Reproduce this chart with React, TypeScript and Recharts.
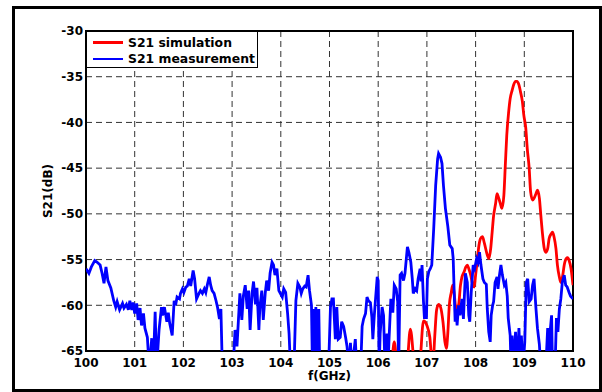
import React from "react";
import { CartesianGrid, Line, LineChart, ReferenceArea, XAxis, YAxis } from "recharts";

const xTicks = [100, 101, 102, 103, 104, 105, 106, 107, 108, 109, 110];
const yTicks = [-65, -60, -55, -50, -45, -40, -35, -30];

// values below -65 dB sit under the axis and get clipped
const measFreq = [
  100.0, 100.06, 100.11, 100.18, 100.23, 100.29, 100.33, 100.37, 100.41, 100.45, 100.51, 100.57, 100.61, 100.64,
  100.69, 100.75, 100.78, 100.83, 100.87, 100.9, 100.94, 100.97, 101.0, 101.04, 101.07, 101.11, 101.14, 101.18,
  101.21, 101.26, 101.3, 101.35, 101.38, 101.42, 101.45, 101.5, 101.55, 101.57, 101.61, 101.66, 101.69, 101.72,
  101.77, 101.81, 101.84, 101.87, 101.92, 101.94, 101.98, 102.01, 102.05, 102.08, 102.12, 102.15, 102.2, 102.23,
  102.27, 102.32, 102.35, 102.39, 102.43, 102.46, 102.49, 102.53, 102.56, 102.59, 102.63, 102.67, 102.7, 102.74,
  102.77, 102.8, 103.02, 103.06, 103.1, 103.16, 103.2, 103.23, 103.27, 103.31, 103.34, 103.37, 103.41, 103.44,
  103.48, 103.51, 103.55, 103.57, 103.61, 103.64, 103.68, 103.71, 103.75, 103.78, 103.82, 103.85, 103.88, 103.92,
  103.96, 103.99, 104.03, 104.06, 104.1, 104.14, 104.17, 104.2, 104.27, 104.31, 104.35, 104.39, 104.42, 104.45,
  104.49, 104.52, 104.56, 104.59, 104.63, 104.65, 104.67, 104.69, 104.72, 104.75, 104.78, 104.8, 104.98, 105.02,
  105.05, 105.08, 105.12, 105.15, 105.18, 105.22, 105.25, 105.29, 105.33, 105.36, 105.4, 105.43, 105.46, 105.53,
  105.56, 105.64, 105.67, 105.7, 105.74, 105.77, 105.8, 105.84, 105.87, 105.89, 105.92, 105.98, 106.0, 106.02,
  106.04, 106.08, 106.11, 106.14, 106.18, 106.2, 106.22, 106.26, 106.3, 106.33, 106.37, 106.4, 106.42, 106.45,
  106.48, 106.52, 106.55, 106.6, 106.63, 106.67, 106.7, 106.72, 106.76, 106.79, 106.82, 106.86, 106.88, 106.9,
  106.93, 106.95, 106.97, 106.99, 107.01, 107.04, 107.07, 107.1, 107.14, 107.18, 107.22, 107.24, 107.28, 107.31,
  107.34, 107.38, 107.43, 107.47, 107.52, 107.54, 107.56, 107.58, 107.6, 107.62, 107.65, 107.68, 107.72, 107.75,
  107.79, 107.83, 107.86, 107.88, 107.91, 107.95, 107.98, 108.02, 108.05, 108.08, 108.11, 108.15, 108.18, 108.22,
  108.24, 108.27, 108.3, 108.32, 108.35, 108.37, 108.4, 108.44, 108.46, 108.49, 108.52, 108.55, 108.59, 108.62,
  108.65, 108.67, 108.71, 108.73, 108.75, 108.78, 108.82, 108.85, 108.89, 108.92, 108.94, 108.97, 109.01, 109.04,
  109.07, 109.1, 109.14, 109.17, 109.2, 109.24, 109.27, 109.31, 109.34, 109.44, 109.48, 109.5, 109.53, 109.56,
  109.58, 109.63, 109.66, 109.69, 109.72, 109.75, 109.78, 109.82, 109.85, 109.88, 109.92, 109.95, 110.0,
];
const measDb = [
  -56.0, -56.5, -55.8, -55.1, -55.3, -55.6, -56.5, -57.6, -55.8, -57.3, -58.1, -59.5, -60.2, -59.6,
  -60.5, -59.8, -60.3, -59.9, -60.5, -59.5, -60.5, -59.7, -60.9, -59.8, -61.6, -60.3, -62.2, -60.9,
  -62.5, -63.5, -67, -63.6, -67, -60.7, -67, -62.7, -60.2, -61.1, -60.2, -61.8, -60.8, -62.0,
  -63.3, -59.5, -60.0, -59.1, -59.3, -58.7, -58.2, -58.6, -58.0, -57.9, -57.1, -57.9, -56.2, -57.1,
  -59.3, -58.7, -58.4, -58.7, -58.2, -58.6, -57.8, -56.9, -57.8, -58.4, -58.7, -59.5, -60.2, -61.5,
  -60.4, -67, -67, -62.7, -64.5, -58.7, -61.6, -59.0, -57.8, -60.4, -58.4, -62.7, -58.7, -57.4,
  -59.9, -58.1, -62.7, -60.2, -58.4, -61.6, -58.7, -57.3, -58.4, -56.5, -55.3, -55.6, -56.7, -56.0,
  -58.4, -58.7, -59.1, -58.2, -58.6, -60.9, -63.1, -67, -67, -59.5, -57.6, -58.0, -58.7, -58.2,
  -57.9, -58.0, -56.7, -58.4, -60.0, -67, -60.4, -67, -60.2, -67, -60.4, -67, -67, -60.2,
  -59.3, -59.3, -63.7, -60.2, -63.7, -63.5, -61.8, -62.3, -63.5, -64.5, -67, -64.1, -67, -63.7,
  -67, -67, -62.3, -61.5, -60.9, -59.1, -59.5, -59.7, -61.3, -63.7, -61.1, -56.9, -57.3, -67,
  -63.1, -60.2, -61.1, -67, -63.1, -67, -64.0, -59.3, -60.8, -57.8, -58.2, -59.6, -67, -56.7,
  -56.5, -57.3, -56.5, -53.6, -54.2, -55.3, -57.1, -58.7, -58.2, -58.4, -57.1, -56.0, -57.4, -55.6,
  -59.6, -61.5, -60.0, -61.5, -57.1, -56.3, -56.0, -55.6, -51.6, -46.9, -44.0, -43.4, -43.8, -44.5,
  -46.9, -49.4, -51.4, -53.4, -53.8, -54.9, -58.5, -61.8, -60.4, -62.2, -60.0, -61.1, -59.3, -61.5,
  -56.5, -57.5, -61.1, -61.8, -58.6, -55.6, -56.0, -54.9, -55.3, -54.2, -55.6, -57.1, -57.5, -57.7,
  -60.4, -62.9, -64.0, -61.1, -60.0, -59.6, -57.5, -56.9, -58.2, -56.7, -55.6, -56.7, -57.8, -57.5,
  -59.0, -61.4, -63.3, -67, -63.3, -67, -62.9, -67, -62.5, -67, -63.3, -67, -64.0, -57.5,
  -57.1, -59.6, -59.3, -57.8, -57.1, -60.4, -62.5, -64.3, -67, -67, -62.5, -67, -62.9, -61.1,
  -67, -67, -61.4, -62.9, -60.4, -59.3, -57.5, -56.7, -57.8, -58.0, -58.6, -59.0, -59.3,
];

const simFreq = [
  106.2, 106.26, 106.33, 106.4, 106.58, 106.66, 106.76, 106.84, 106.93, 107.0, 107.06, 107.12, 107.16, 107.2,
  107.24, 107.28, 107.33, 107.37, 107.4, 107.43, 107.46, 107.5, 107.53, 107.56, 107.6, 107.65, 107.69, 107.72,
  107.76, 107.8, 107.83, 107.86, 107.9, 107.93, 107.97, 108.0, 108.03, 108.07, 108.1, 108.14, 108.18, 108.24,
  108.27, 108.31, 108.34, 108.37, 108.41, 108.44, 108.47, 108.51, 108.54, 108.58, 108.61, 108.64, 108.68, 108.71,
  108.75, 108.78, 108.82, 108.85, 108.89, 108.92, 108.96, 108.99, 109.03, 109.06, 109.1, 109.13, 109.17, 109.2,
  109.24, 109.27, 109.31, 109.34, 109.37, 109.41, 109.44, 109.48, 109.51, 109.55, 109.58, 109.61, 109.65, 109.68,
  109.72, 109.75, 109.79, 109.82, 109.86, 109.89, 109.92, 109.96, 110.0,
];
const simDb = [
  -67, -67, -64.0, -67, -67, -62.6, -67, -67, -61.7, -62.2, -63.5, -67, -63.5, -60.5,
  -59.9, -60.2, -61.8, -64.0, -64.7, -63.0, -60.0, -58.6, -57.8, -58.7, -60.5, -60.0, -57.8, -56.9,
  -56.4, -55.8, -55.6, -56.0, -56.7, -57.5, -58.0, -56.7, -55.3, -53.4, -52.7, -52.5, -53.2, -54.5,
  -54.9, -53.8, -52.0, -50.2, -48.9, -47.8, -48.2, -48.9, -49.4, -48.0, -44.7, -41.4, -38.8, -37.4,
  -36.5, -35.9, -35.5, -35.5, -35.9, -36.6, -37.7, -39.2, -40.6, -42.8, -45.0, -47.6, -48.5, -48.3,
  -47.8, -47.4, -48.3, -50.2, -52.0, -53.8, -54.2, -53.8, -52.7, -52.2, -52.0, -52.5, -53.8, -55.6,
  -56.9, -57.5, -56.7, -55.6, -54.9, -54.8, -55.1, -56.0, -57.8,
];

const simData = simFreq.map((f, i) => ({ f, db: simDb[i] }));
const measData = measFreq.map((f, i) => ({ f, db: measDb[i] }));

const FONT = "'DejaVu Sans', sans-serif";
const tickStyle = { fontSize: 12, fontWeight: 700, fill: "#000", fontFamily: FONT };

const legendItems = [
  { name: "S21 simulation", color: "#ff0000" },
  { name: "S21 measurement", color: "#0000ff" },
];

function LegendBox() {
  return (
    <div
      style={{
        position: "absolute",
        left: 86,
        top: 31,
        width: 172,
        height: 37,
        boxSizing: "border-box",
        border: "1px solid #000",
        background: "#fff",
        padding: "2px 0 0 6px",
        fontFamily: FONT,
        fontWeight: 700,
        fontSize: 12.4,
        zIndex: 2,
      }}
    >
      {legendItems.map((it) => (
        <div key={it.name} style={{ display: "flex", alignItems: "center", height: 16.5 }}>
          <span style={{ display: "inline-block", width: 30, height: 2.5, background: it.color, marginRight: 5 }} />
          <span>{it.name}</span>
        </div>
      ))}
    </div>
  );
}

export default function App() {
  return (
    <div style={{ position: "fixed", left: 0, top: 0, width: 602, height: 392, overflow: "hidden", background: "#fff" }}>
      <LineChart width={602} height={392} margin={{ top: 31, right: 29, bottom: 11, left: 26 }}>
        <CartesianGrid stroke="#333" strokeDasharray="6 4" />
        <XAxis
          type="number"
          dataKey="f"
          domain={[100, 110]}
          ticks={xTicks}
          allowDataOverflow
          axisLine={false}
          tickLine={false}
          tickSize={0}
          tickMargin={7}
          tick={tickStyle}
          label={{ value: "f(GHz)", position: "insideBottom", offset: 1, style: { ...tickStyle } }}
        />
        <YAxis
          type="number"
          dataKey="db"
          domain={[-65, -30]}
          ticks={yTicks}
          allowDataOverflow
          width={60}
          axisLine={false}
          tickLine={false}
          tickSize={0}
          tickMargin={3}
          tick={tickStyle}
          label={{
            value: "S21(dB)",
            angle: -90,
            position: "insideLeft",
            offset: 22,
            style: { ...tickStyle, textAnchor: "middle" },
          }}
        />
        <Line
          data={simData}
          dataKey="db"
          type="monotone"
          stroke="#ff0000"
          strokeWidth={2.8}
          dot={false}
          isAnimationActive={false}
        />
        <Line
          data={measData}
          dataKey="db"
          type="linear"
          stroke="#0000ff"
          strokeWidth={2.8}
          dot={false}
          isAnimationActive={false}
        />
        <ReferenceArea x1={100} x2={110} y1={-65} y2={-30} fill="none" stroke="#000" strokeWidth={2} />
      </LineChart>
      <LegendBox />
      <div
        style={{
          position: "absolute",
          left: 12,
          top: 6,
          width: 590,
          height: 386,
          boxSizing: "border-box",
          border: "3px solid #000",
          pointerEvents: "none",
        }}
      />
    </div>
  );
}
